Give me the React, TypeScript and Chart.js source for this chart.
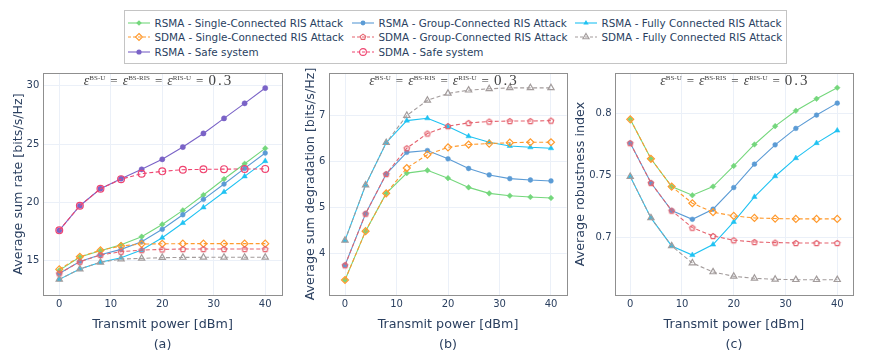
import React, { useEffect, useRef } from 'react';
import { Chart, registerables } from 'chart.js';

Chart.register(...registerables);

// ---------- data ----------
const powerDbm = [0, 4, 8, 12, 16, 20, 24, 28, 32, 36, 40];
const xTickValues = [0, 10, 20, 30, 40];

const seriesNames = [
  'RSMA - Single-Connected RIS Attack',
  'RSMA - Group-Connected RIS Attack',
  'RSMA - Fully Connected RIS Attack',
  'SDMA - Single-Connected RIS Attack',
  'SDMA - Group-Connected RIS Attack',
  'SDMA - Fully Connected RIS Attack',
  'RSMA - Safe system',
  'SDMA - Safe system',
];

// (a) Average sum rate [bits/s/Hz]
const rateRsmaSingle = [14.17, 15.31, 15.86, 16.37, 17.06, 18.11, 19.31, 20.63, 22.0, 23.31, 24.63];
const rateRsmaGroup = [13.91, 14.94, 15.51, 15.97, 16.63, 17.69, 18.94, 20.26, 21.57, 22.91, 24.23];
const rateRsmaFully = [13.4, 14.29, 14.86, 15.26, 15.91, 16.97, 18.23, 19.57, 20.89, 22.23, 23.54];
const rateSdmaSingle = [14.26, 15.34, 15.89, 16.26, 16.43, 16.45, 16.46, 16.46, 16.46, 16.46, 16.46];
const rateSdmaGroup = [13.91, 14.91, 15.49, 15.77, 15.91, 15.97, 16.0, 16.0, 16.0, 16.0, 16.0];
const rateSdmaFully = [13.4, 14.29, 14.86, 15.14, 15.2, 15.26, 15.28, 15.29, 15.29, 15.29, 15.29];
const rateRsmaSafe = [17.6, 19.71, 21.17, 22.03, 22.83, 23.69, 24.74, 25.91, 27.2, 28.49, 29.8];
const rateSdmaSafe = [17.6, 19.71, 21.17, 21.99, 22.46, 22.66, 22.8, 22.83, 22.85, 22.86, 22.87];
const rateTicks = [15, 20, 25, 30];

// (b) Average sum degradation [bits/s/Hz]
const degRsmaSingle = [3.42, 4.48, 5.3, 5.74, 5.8, 5.63, 5.43, 5.3, 5.25, 5.22, 5.2];
const degRsmaGroup = [3.74, 4.86, 5.72, 6.19, 6.23, 6.05, 5.84, 5.7, 5.62, 5.59, 5.57];
const degRsmaFully = [4.28, 5.48, 6.4, 6.88, 6.93, 6.75, 6.54, 6.41, 6.33, 6.3, 6.28];
const degSdmaSingle = [3.42, 4.48, 5.3, 5.85, 6.14, 6.3, 6.36, 6.38, 6.4, 6.41, 6.41];
const degSdmaGroup = [3.74, 4.86, 5.72, 6.28, 6.6, 6.76, 6.83, 6.86, 6.87, 6.87, 6.88];
const degSdmaFully = [4.28, 5.48, 6.4, 6.99, 7.32, 7.47, 7.54, 7.57, 7.59, 7.59, 7.59];
const degTicks = [4, 5, 6, 7];

// (c) Average robustness index
const robRsmaSingle = [0.795, 0.7633, 0.741, 0.734, 0.741, 0.7576, 0.7748, 0.7895, 0.8019, 0.8115, 0.8204];
const robRsmaGroup = [0.7759, 0.744, 0.7217, 0.7147, 0.7228, 0.7402, 0.759, 0.7745, 0.7877, 0.7984, 0.808];
const robRsmaFully = [0.749, 0.7158, 0.6933, 0.686, 0.6944, 0.7126, 0.7327, 0.7493, 0.7638, 0.7759, 0.786];
const robSdmaSingle = [0.795, 0.7633, 0.741, 0.7276, 0.7204, 0.7174, 0.7158, 0.7153, 0.715, 0.715, 0.715];
const robSdmaGroup = [0.7759, 0.744, 0.7217, 0.708, 0.7013, 0.6979, 0.6965, 0.696, 0.6957, 0.6957, 0.6957];
const robSdmaFully = [0.749, 0.7158, 0.6933, 0.6796, 0.6724, 0.6689, 0.6673, 0.6665, 0.6662, 0.6662, 0.6662];
const robTicks = [0.7, 0.75, 0.8];

// ---------- styles ----------
const seriesColors = ['#74d77c', '#5b9bd5', '#1fc2f2', '#ff9a2e', '#e5636f', '#a39c9c', '#7a63c7', '#ef4470'];
const seriesMarkers = ['diamond', 'circle', 'triangle', 'diamond', 'pentagon', 'triangle', 'circle', 'circle'];
const seriesOpen = [false, false, false, true, true, true, false, true];
const seriesDashed = [false, false, false, true, true, true, false, true];
const seriesMarkerSize = [2.8, 2.4, 3.1, 3.5, 2.9, 3.6, 2.6, 3.4];

const TEXT = '#2a3f5f';
const GRID = '#ebf0f8';
const FRAME = '#8f8f8f';
const SANS = '"DejaVu Sans", Verdana, sans-serif';
const SERIF = '"Liberation Serif", "DejaVu Serif", serif';

const panels = [
  {
    key: 'a', sub: '(a)', yTitle: 'Average sum rate [bits/s/Hz]',
    values: [rateRsmaSingle, rateRsmaGroup, rateRsmaFully, rateSdmaSingle, rateSdmaGroup, rateSdmaFully, rateRsmaSafe, rateSdmaSafe],
    yTicks: rateTicks, yMin: 12.06, yMax: 31.09, xMin: -3.1, xMax: 43.2,
    left: 0, w: 290, yAxisW: 43.3, padRight: 8.3, yTitleX: 19, yTickPad: 4, titleShift: -4,
  },
  {
    key: 'b', sub: '(b)', yTitle: 'Average sum degradation [bits/s/Hz]',
    values: [degRsmaSingle, degRsmaGroup, degRsmaFully, degSdmaSingle, degSdmaGroup, degSdmaFully, null, null],
    yTicks: degTicks, yMin: 3.094, yMax: 7.913, xMin: -3.05, xMax: 43.05,
    left: 290, w: 285, yAxisW: 39.3, padRight: 8.3, yTitleX: 21, yTickPad: 4, titleShift: -4,
  },
  {
    key: 'c', sub: '(c)', yTitle: 'Average robustness index',
    values: [robRsmaSingle, robRsmaGroup, robRsmaFully, robSdmaSingle, robSdmaGroup, robSdmaFully, null, null],
    yTicks: robTicks, yMin: 0.6539, yMax: 0.8322, xMin: -3.04, xMax: 43.1,
    left: 570, w: 304, yAxisW: 44.5, padRight: 20.7, yTitleX: 11, yTickPad: 3, titleShift: 1,
  },
];

const CANVAS_TOP = 60;
const CANVAS_H = 299;
const PAD_TOP = 13;
const X_AXIS_H = 64;

// ---------- helpers ----------
function pentagonImage(color: string, r: number) {
  const size = Math.ceil(r * 2 + 4);
  const c = document.createElement('canvas');
  c.width = size;
  c.height = size;
  const ctx = c.getContext('2d')!;
  ctx.strokeStyle = color;
  ctx.lineWidth = 1.2;
  ctx.beginPath();
  for (let k = 0; k < 5; k++) {
    const a = -Math.PI / 2 + (k * 2 * Math.PI) / 5;
    const px = size / 2 + r * Math.cos(a);
    const py = size / 2 + 0.3 + r * Math.sin(a);
    if (k === 0) ctx.moveTo(px, py);
    else ctx.lineTo(px, py);
  }
  ctx.closePath();
  ctx.stroke();
  return c;
}

function makeDataset(i: number, vals: number[]) {
  const color = seriesColors[i];
  const m = seriesMarkers[i];
  const open = seriesOpen[i];
  let pointStyle: any = m === 'diamond' ? 'rectRot' : m;
  if (m === 'pentagon') pointStyle = pentagonImage(color, seriesMarkerSize[i]);
  return {
    label: seriesNames[i],
    data: vals.map((y, k) => ({ x: powerDbm[k], y })),
    borderColor: color,
    backgroundColor: color,
    borderWidth: 1.1,
    borderDash: seriesDashed[i] ? [4, 2.5] : [],
    pointStyle,
    pointRadius: seriesMarkerSize[i],
    pointBackgroundColor: open ? 'rgba(0,0,0,0)' : color,
    pointBorderColor: color,
    pointBorderWidth: open ? 1.2 : 0.5,
    tension: 0,
    order: -i,
  };
}

const titleParts = [
  { t: 'ε', k: 'var' }, { t: 'BS-U', k: 'sup' }, { t: '=', k: 'rel' },
  { t: 'ε', k: 'var' }, { t: 'BS-RIS', k: 'sup' }, { t: '=', k: 'rel' },
  { t: 'ε', k: 'var' }, { t: 'RIS-U', k: 'sup' }, { t: '=', k: 'rel' },
  { t: '0.3', k: 'num' },
];

function partFont(k: string) {
  if (k === 'var') return `italic 14px ${SERIF}`;
  if (k === 'sup') return `7px ${SERIF}`;
  if (k === 'rel') return `13px ${SERIF}`;
  return `15px ${SERIF}`;
}

function drawMathTitle(ctx: CanvasRenderingContext2D, cx: number, baseline: number) {
  ctx.save();
  ctx.fillStyle = '#444';
  ctx.textBaseline = 'alphabetic';
  ctx.textAlign = 'left';
  const widths = titleParts.map((p) => {
    ctx.font = partFont(p.k);
    (ctx as any).letterSpacing = p.k === 'num' ? '2px' : '0px';
    const w = ctx.measureText(p.t).width;
    return p.k === 'rel' ? w + 10 : w;
  });
  const total = widths.reduce((a, b) => a + b, 0);
  let x = cx - total / 2;
  titleParts.forEach((p, i) => {
    ctx.font = partFont(p.k);
    (ctx as any).letterSpacing = p.k === 'num' ? '2px' : '0px';
    const dy = p.k === 'sup' ? -5 : 0;
    ctx.fillText(p.t, p.k === 'rel' ? x + 5 : x, baseline + dy);
    x += widths[i];
  });
  ctx.restore();
}

const decorPlugin = {
  id: 'decor',
  afterDraw(chart: any) {
    const { ctx, chartArea } = chart;
    const { left, top, right, bottom } = chartArea;
    const opts = chart.options.plugins.decor || {};
    ctx.save();
    ctx.strokeStyle = FRAME;
    ctx.lineWidth = 1;
    const l = Math.round(left) + 0.5;
    const t = Math.round(top) + 0.5;
    const r = Math.round(right) + 0.5;
    const b = Math.round(bottom) + 0.5;
    ctx.strokeRect(l, t, r - l, b - t);
    // y-axis title (drawn without width squeezing)
    ctx.translate(opts.yTitleX, (top + bottom) / 2);
    ctx.rotate(-Math.PI / 2);
    ctx.font = `12.7px ${SANS}`;
    ctx.fillStyle = TEXT;
    ctx.textAlign = 'center';
    ctx.textBaseline = 'middle';
    ctx.fillText(opts.yTitle, 0, 0);
    ctx.restore();
    drawMathTitle(ctx, (left + right) / 2 + (opts.shift ?? 0), top + 12);
  },
};

function Panel({ p }: { p: any }) {
  const ref = useRef<HTMLCanvasElement>(null);
  useEffect(() => {
    const canvas = ref.current!;
    const datasets = p.values
      .map((vals: number[] | null, i: number) => (vals ? makeDataset(i, vals) : null))
      .filter(Boolean);
    const chart = new Chart(canvas, {
      type: 'line',
      data: { datasets },
      options: {
        responsive: false,
        maintainAspectRatio: false,
        animation: false,
        layout: { padding: { top: PAD_TOP, right: p.padRight, left: 0, bottom: 0 } },
        plugins: {
          legend: { display: false },
          tooltip: { enabled: false },
          decor: { shift: p.titleShift, yTitle: p.yTitle, yTitleX: p.yTitleX },
        } as any,
        scales: {
          x: {
            type: 'linear',
            min: p.xMin,
            max: p.xMax,
            afterBuildTicks: (s: any) => {
              s.ticks = xTickValues.map((v) => ({ value: v }));
            },
            afterFit: (s: any) => {
              s.height = X_AXIS_H;
            },
            grid: { color: GRID, drawTicks: false, lineWidth: 1 },
            border: { display: false },
            ticks: {
              padding: 3,
              color: TEXT,
              font: { family: SANS, size: 10 },
              maxRotation: 0,
              callback: (v: any) => String(v),
            },
            title: {
              display: true,
              text: ['Transmit power [dBm]', p.sub],
              color: TEXT,
              font: { family: SANS, size: 12.7, lineHeight: 1.63 },
              padding: { top: 0, bottom: 3.65 },
            },
          },
          y: {
            type: 'linear',
            min: p.yMin,
            max: p.yMax,
            afterBuildTicks: (s: any) => {
              s.ticks = p.yTicks.map((v: number) => ({ value: v }));
            },
            afterFit: (s: any) => {
              s.width = p.yAxisW;
            },
            grid: { color: GRID, drawTicks: false, lineWidth: 1 },
            border: { display: false },
            ticks: {
              padding: p.yTickPad,
              color: TEXT,
              font: { family: SANS, size: 10 },
              callback: (v: any) => String(v),
            },
            title: { display: false },
          },
        },
      } as any,
      plugins: [decorPlugin],
    });
    return () => chart.destroy();
  }, [p]);
  return (
    <canvas
      ref={ref}
      width={p.w}
      height={CANVAS_H}
      style={{ position: 'absolute', left: p.left, top: CANVAS_TOP, width: p.w, height: CANVAS_H }}
    />
  );
}

// ---------- legend ----------
const legendColX = [3, 227, 450];
const legendRowY = [11.6, 26.2, 41];

function markerShape(i: number, cx: number, cy: number) {
  const color = seriesColors[i];
  const r = seriesMarkerSize[i];
  const open = seriesOpen[i];
  const fill = open ? 'none' : color;
  const sw = open ? 1.1 : 0;
  const m = seriesMarkers[i];
  if (m === 'circle') return <circle cx={cx} cy={cy} r={r} fill={fill} stroke={color} strokeWidth={sw} />;
  let pts: number[][] = [];
  if (m === 'diamond') pts = [[cx, cy - r], [cx + r, cy], [cx, cy + r], [cx - r, cy]];
  else {
    const n = m === 'triangle' ? 3 : 5;
    for (let k = 0; k < n; k++) {
      const a = -Math.PI / 2 + (k * 2 * Math.PI) / n;
      pts.push([cx + r * Math.cos(a), cy + r * Math.sin(a)]);
    }
  }
  return <polygon points={pts.map((q) => q.join(',')).join(' ')} fill={fill} stroke={color} strokeWidth={sw} />;
}

function Legend() {
  return (
    <div
      style={{
        position: 'absolute', left: 124, top: 10, width: 663, height: 54,
        border: '1px solid #c4c4c4', boxSizing: 'border-box', background: '#fff',
        fontFamily: SANS, fontSize: 10.4, color: TEXT,
      }}
    >
      {seriesNames.map((name, i) => {
        const col = i % 3;
        const row = Math.floor(i / 3);
        return (
          <div
            key={name}
            style={{
              position: 'absolute', left: legendColX[col], top: legendRowY[row] - 7, height: 14,
              display: 'flex', alignItems: 'center', whiteSpace: 'nowrap',
            }}
          >
            <svg width={22} height={12} style={{ display: 'block' }}>
              <line x1={0} y1={6} x2={22} y2={6} stroke={seriesColors[i]} strokeWidth={1.1}
                strokeDasharray={seriesDashed[i] ? '3,2' : undefined} />
              {markerShape(i, 11, 6)}
            </svg>
            <span style={{ marginLeft: 4.5, lineHeight: '14px' }}>{name}</span>
          </div>
        );
      })}
    </div>
  );
}

export default function App() {
  return (
    <div style={{ position: 'absolute', left: 0, top: 0, width: 874, height: 359, background: '#fff', overflow: 'hidden' }}>
      <Legend />
      {panels.map((p) => (
        <Panel key={p.key} p={p} />
      ))}
    </div>
  );
}
